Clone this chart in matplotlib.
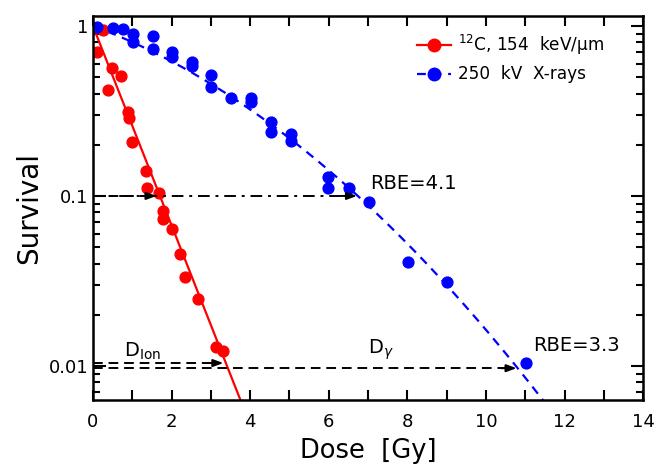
import numpy as np
import matplotlib
matplotlib.use('Agg')
import matplotlib.pyplot as plt
from matplotlib.ticker import MultipleLocator, LogLocator, NullFormatter, FixedLocator, FixedFormatter

# Carbon ions (12C, 154 keV/um)
c_dose = [0.1, 0.25, 0.38, 0.48, 0.71, 0.9, 0.92, 1.0, 1.34, 1.37, 1.68, 1.78, 1.78, 2.0,
          2.21, 2.34, 2.67, 3.13, 3.31]
c_surv = [0.70, 0.95, 0.42, 0.566, 0.508, 0.31, 0.287, 0.207, 0.14, 0.111, 0.104, 0.0815,
          0.0735, 0.064, 0.0457, 0.0334, 0.0248, 0.0129, 0.0122]

# 250 kV X-rays
x_dose = [0.1, 0.51, 0.77, 1.02, 1.02, 1.52, 1.52, 2.0, 2.0, 2.51, 2.51, 3.0, 3.0, 3.51,
          4.02, 4.02, 4.52, 4.52, 5.03, 5.03, 5.98, 5.98, 6.51, 7.02, 8.02, 9.0, 11.02]
x_surv = [0.99, 0.97, 0.96, 0.90, 0.80, 0.87, 0.73, 0.70, 0.66, 0.61, 0.58, 0.515, 0.44,
          0.377, 0.377, 0.357, 0.272, 0.238, 0.231, 0.21, 0.129, 0.111, 0.111, 0.092,
          0.041, 0.031, 0.0104]

# Fit parameters, S = exp(-(alpha*D + beta*D^2))
c_alpha, c_beta = 1.35, 0.0
x_alpha, x_beta = 0.197, 0.02146

# Iso-effect doses
levels = [0.1, 0.01]
d_ion = [1.62, 3.32]
d_xray = [6.72, 10.78]
rbe_labels = ['RBE=4.1', 'RBE=3.3']

fig, ax = plt.subplots(figsize=(6.59, 4.69), dpi=100)
fig.subplots_adjust(left=0.141, right=0.976, bottom=0.147, top=0.966)

dd = np.linspace(0, 14, 400)
ax.plot(dd, np.exp(-(c_alpha * dd + c_beta * dd**2)), color='red', lw=1.6)
ax.plot(dd, np.exp(-(x_alpha * dd + x_beta * dd**2)), color='blue', lw=1.6, ls=(0, (4, 3)))
ax.plot(c_dose, c_surv, 'o', color='red', ms=7.8)
ax.plot(x_dose, x_surv, 'o', color='blue', ms=7.8)

# legend proxies
ax.plot([], [], '-o', color='red', lw=1.6, ms=9, label=r'$^{12}$C, 154  keV/μm')
ax.plot([], [], 'o', color='blue', lw=1.6, ms=9, ls=(0, (4, 3)), label='250  kV  X-rays')

# 10% survival: dashed to ion dose, dash-dot to x-ray dose
ax.plot([0, d_ion[0] - 0.25], [levels[0]] * 2, color='k', lw=1.4, ls=(0, (5, 3)))
ax.plot([0, d_xray[0] - 0.25], [levels[0]] * 2, color='k', lw=1.4, ls=(0, (6, 3, 1.5, 3)))
# 1% survival: two slightly offset dashed lines
y_hi, y_lo = levels[1] * 1.04, levels[1] * 0.97
ax.plot([0, d_ion[1] - 0.25], [y_hi] * 2, color='k', lw=1.4, ls=(0, (5, 3)))
ax.plot([0, d_xray[1] - 0.25], [y_lo] * 2, color='k', lw=1.4, ls=(0, (5, 3)))

arrow = dict(arrowstyle='-|>,head_length=0.6,head_width=0.22', color='k', lw=1.4,
             shrinkA=0, shrinkB=0)
for x0, y0 in [(d_ion[0], levels[0]), (d_xray[0], levels[0]), (d_ion[1], y_hi), (d_xray[1], y_lo)]:
    ax.annotate('', xy=(x0, y0), xytext=(x0 - 0.4, y0), arrowprops=arrow)

ax.text(7.05, 0.119, rbe_labels[0], fontsize=14, va='center', ha='left')
ax.text(11.2, 0.0132, rbe_labels[1], fontsize=14, va='center', ha='left')
ax.text(0.8, 0.0106, r'D$_{\mathrm{Ion}}$', fontsize=14, va='bottom', ha='left')
ax.text(7.0, 0.0106, r'D$_{\gamma}$', fontsize=14, va='bottom', ha='left')

ax.set_yscale('log')
ax.set_xlim(0, 14)
ax.set_ylim(0.0063, 1.145)

ax.xaxis.set_major_locator(MultipleLocator(2))
ax.xaxis.set_minor_locator(MultipleLocator(1))
ax.yaxis.set_major_locator(FixedLocator([0.01, 0.1, 1]))
ax.yaxis.set_major_formatter(FixedFormatter(['0.01', '0.1', '1']))
ax.yaxis.set_minor_locator(LogLocator(base=10, subs=np.arange(2, 10)))
ax.yaxis.set_minor_formatter(NullFormatter())

ax.tick_params(which='both', direction='in', top=True, right=True, width=1.5, labelsize=13)
ax.tick_params(axis='x', which='both', length=7, pad=9)
ax.tick_params(axis='y', which='major', length=9)
ax.tick_params(axis='y', which='minor', length=5)
for s in ax.spines.values():
    s.set_linewidth(1.8)

ax.set_xlabel('Dose  [Gy]', fontsize=18.5, labelpad=5)
ax.set_ylabel('Survival', fontsize=20, labelpad=4)

ax.legend(loc='upper right', frameon=False, fontsize=12.2, handlelength=2.0,
          handletextpad=0.4, borderaxespad=0.6, bbox_to_anchor=(0.96, 1.0))

fig.savefig('out.png', dpi=100)
